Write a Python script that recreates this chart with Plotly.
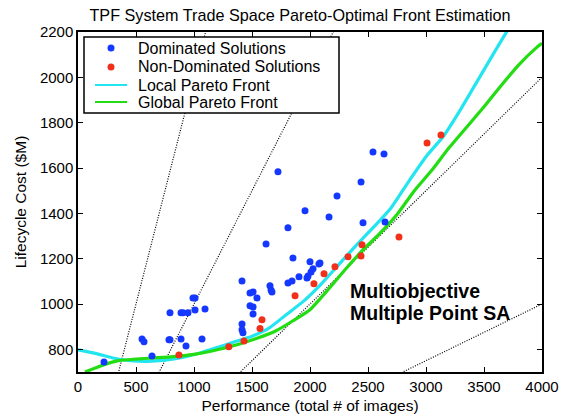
import plotly.graph_objects as go

# Dominated designs: performance (images) vs lifecycle cost ($M)
dom_x = [224, 552, 569, 638, 784, 793, 793, 888, 905, 888, 931, 948, 991, 1009, 1009,
         1069, 1095, 1414, 1414, 1414, 1422, 1483, 1509, 1543, 1483, 1509, 1509,
         1655, 1664, 1672, 1810, 1845, 1905, 1974, 1983, 2000, 2077, 2026, 2009,
         1724, 1957, 2164, 1810, 1621, 1853, 2543, 2638, 2440, 2233, 2457, 2647, 2086]
dom_y = [744, 846, 833, 771, 842, 961, 842, 961, 961, 846, 815, 961, 1027, 1027, 974,
         846, 978, 1102, 912, 886, 873, 1049, 1053, 1027, 992, 987, 956,
         1080, 1062, 1053, 1093, 1102, 1120, 1115, 1124, 1186, 1177, 1155, 1141,
         1583, 1411, 1384, 1336, 1265, 1203, 1671, 1662, 1538, 1477, 1358, 1362, 1181]

# Non-dominated designs
nd_x = [870, 1300, 1431, 1569, 1586, 1871, 2034, 2121, 2215, 2328, 2440, 2448, 2767, 3009, 3129]
nd_y = [775, 811, 837, 892, 930, 1036, 1089, 1133, 1164, 1208, 1212, 1261, 1296, 1710, 1746]

# Local Pareto front estimate
local_x = [0, 150, 300, 450, 600, 750, 900, 1050, 1200, 1350, 1500, 1650, 1800, 1950, 2100,
           2250, 2400, 2550, 2700, 2850, 3000, 3150, 3300, 3450, 3600, 3700]
local_y = [798, 782, 762, 750, 747, 752, 764, 784, 808, 833, 858, 895, 955, 1015, 1090,
           1175, 1260, 1340, 1425, 1540, 1650, 1740, 1860, 1990, 2120, 2205]

# Global Pareto front estimate
global_x = [60, 200, 350, 500, 650, 800, 1000, 1200, 1400, 1550, 1700, 1850, 2000, 2150,
            2300, 2450, 2600, 2750, 2900, 3050, 3200, 3350, 3500, 3650, 3800, 3950, 4000]
global_y = [700, 728, 750, 757, 762, 767, 778, 798, 825, 850, 880, 925, 975, 1060,
            1150, 1235, 1310, 1395, 1500, 1590, 1690, 1780, 1870, 1965, 2055, 2130, 2150]

# Constant cost-per-image guide lines ($M per image)
cost_per_image = [2.0, 1.0, 0.5, 0.25]
guide_x = [0, 4000]

x_ticks = [0, 500, 1000, 1500, 2000, 2500, 3000, 3500, 4000]
y_ticks = [800, 1000, 1200, 1400, 1600, 1800, 2000, 2200]

FONT = "Liberation Sans, Arial, Helvetica, sans-serif"
BLUE = "#1438FF"
RED = "#F0301A"
CYAN = "#22E5F0"
GREEN = "#22DD11"

fig = go.Figure()

for k in cost_per_image:
    fig.add_trace(go.Scatter(
        x=guide_x, y=[k * v for v in guide_x], mode="lines",
        line=dict(color="#000000", width=1.2, dash="1px,1.5px"),
        showlegend=False, hoverinfo="skip"))

fig.add_trace(go.Scatter(
    x=local_x, y=local_y, mode="lines", name="Local Pareto Front",
    line=dict(color=CYAN, width=3.2, shape="spline", smoothing=0.6), showlegend=False))
fig.add_trace(go.Scatter(
    x=global_x, y=global_y, mode="lines", name="Global Pareto Front",
    line=dict(color=GREEN, width=3.2, shape="spline", smoothing=0.6), showlegend=False))
fig.add_trace(go.Scatter(
    x=dom_x, y=dom_y, mode="markers", name="Dominated Solutions",
    marker=dict(color=BLUE, size=7), showlegend=False))
fig.add_trace(go.Scatter(
    x=nd_x, y=nd_y, mode="markers", name="Non-Dominated Solutions",
    marker=dict(color=RED, size=7), showlegend=False))

axis_common = dict(
    showline=True, linecolor="black", linewidth=1.5, mirror="ticks",
    ticks="inside", ticklen=5, tickwidth=1, tickcolor="black",
    showgrid=False, zeroline=False, automargin=False,
    tickfont=dict(family=FONT, size=15, color="black"),
)

fig.update_xaxes(range=[0, 4000], tickvals=x_ticks,
                 title=dict(text="Performance (total # of images)",
                            font=dict(family=FONT, size=15.5, color="black"), standoff=6),
                 **axis_common)
fig.update_yaxes(range=[700, 2200], tickvals=y_ticks,
                 title=dict(text="Lifecycle Cost ($M)",
                            font=dict(family=FONT, size=15.5, color="black"), standoff=9),
                 **axis_common)

fig.add_annotation(x=2327, y=1058, xref="x", yref="y", xanchor="left", yanchor="middle",
                   text="<b>Multiobjective</b>", showarrow=False,
                   font=dict(family=FONT, size=19.5, color="black"))
fig.add_annotation(x=2327, y=961, xref="x", yref="y", xanchor="left", yanchor="middle",
                   text="<b>Multiple Point SA</b>", showarrow=False,
                   font=dict(family=FONT, size=19.5, color="black"))

# Legend box drawn in plot-area (paper) coordinates
PX0, PX1, PY0, PY1 = 78, 542, 32, 372


def px(v):
    return (v - PX0) / (PX1 - PX0)


def py(v):
    return (PY1 - v) / (PY1 - PY0)


fig.add_shape(type="rect", xref="paper", yref="paper",
              x0=px(84), x1=px(339), y0=py(113), y1=py(37),
              line=dict(color="black", width=1.5), fillcolor="white", layer="above")

legend_rows = [
    ("Dominated Solutions", "marker", BLUE, 48),
    ("Non-Dominated Solutions", "marker", RED, 67),
    ("Local Pareto Front", "line", CYAN, 85),
    ("Global Pareto Front", "line", GREEN, 102),
]
for label, kind, color, yc in legend_rows:
    if kind == "marker":
        fig.add_shape(type="circle", xref="paper", yref="paper",
                      x0=px(107.5), x1=px(114.5), y0=py(yc + 3.5), y1=py(yc - 3.5),
                      line=dict(width=0), fillcolor=color, layer="above")
    else:
        fig.add_shape(type="line", xref="paper", yref="paper",
                      x0=px(95), x1=px(127), y0=py(yc), y1=py(yc),
                      line=dict(color=color, width=2), layer="above")
    fig.add_annotation(x=px(136), y=py(yc), xref="paper", yref="paper",
                       xanchor="left", yanchor="middle", text=label, showarrow=False,
                       font=dict(family=FONT, size=16, color="black"))

fig.update_layout(
    width=565, height=416,
    margin=dict(l=78, r=23, t=32, b=44),
    paper_bgcolor="white", plot_bgcolor="white",
    title=dict(text="TPF System Trade Space Pareto-Optimal Front Estimation",
               x=0.531, xanchor="center", y=0.962, yanchor="middle",
               font=dict(family=FONT, size=16.2, color="black")),
    showlegend=False,
)

fig.write_html("out.html")
